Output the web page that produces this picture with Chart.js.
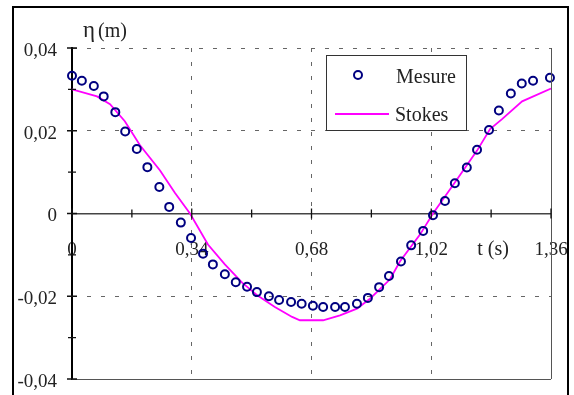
<!DOCTYPE html>
<html lang="fr">
<head>
<meta charset="UTF-8">
<title>Mesure / Stokes</title>
<script src="https://cdn.jsdelivr.net/npm/chart.js"></script>
<style>
  body { margin: 0; background: #fff; }
  #wrap { width: 574px; height: 395px; }
</style>
</head>
<body>
<div id="wrap"><canvas id="etaChart" width="574" height="395"></canvas></div>
<script>
// mesures (t en s, eta en m)
const mesureT = [0, 0.028, 0.062, 0.090, 0.123, 0.151, 0.184, 0.214, 0.248, 0.276,
  0.309, 0.338, 0.372, 0.400, 0.434, 0.465, 0.497, 0.525, 0.559, 0.588,
  0.622, 0.652, 0.684, 0.713, 0.747, 0.775, 0.809, 0.840, 0.872, 0.900,
  0.934, 0.963, 0.997, 1.025, 1.059, 1.087, 1.121, 1.150, 1.184, 1.212,
  1.246, 1.277, 1.309, 1.357];
const mesureEta = [0.0333, 0.0321, 0.0308, 0.0283, 0.0245, 0.0198, 0.0156, 0.0112, 0.0064, 0.0016,
  -0.0022, -0.0059, -0.0097, -0.0123, -0.0147, -0.0166, -0.0177, -0.0190, -0.0200, -0.0209,
  -0.0214, -0.0218, -0.0223, -0.0226, -0.0226, -0.0226, -0.0218, -0.0204, -0.0178, -0.0151,
  -0.0116, -0.0077, -0.0042, -0.0004, 0.0030, 0.0073, 0.0111, 0.0154, 0.0202, 0.0249,
  0.0290, 0.0314, 0.0321, 0.0328];

// theorie de Stokes
const stokesT = [0, 0.071, 0.108, 0.150, 0.193, 0.250, 0.292, 0.335, 0.386, 0.434,
  0.483, 0.528, 0.576, 0.625, 0.647, 0.713, 0.761, 0.809, 0.846, 0.903,
  0.931, 0.988, 1.025, 1.087, 1.150, 1.187, 1.221, 1.278, 1.360];
const stokesEta = [0.0300, 0.0283, 0.0264, 0.0223, 0.0165, 0.0104, 0.0050, 0, -0.0075, -0.0123,
  -0.0167, -0.0199, -0.0226, -0.0250, -0.0258, -0.0258, -0.0246, -0.0230, -0.0206, -0.0159,
  -0.0116, -0.0051, 0, 0.0075, 0.0152, 0.0204, 0.0228, 0.0271, 0.0302];

const xTicks = [0, 0.34, 0.68, 1.02, 1.36];
const xMinor = [0.17, 0.51, 0.85, 1.19];
const yTicks = [-0.04, -0.02, 0, 0.02, 0.04];
const yMinor = [-0.03, -0.01, 0.01, 0.03];

const FONT = '"Liberation Serif", "DejaVu Serif", serif';
const fmt = v => Math.abs(v) < 1e-9 ? '0' : v.toFixed(2).replace('.', ',');

// cadre, graduations, titres d'axes et legende
const decor = {
  id: 'decor',
  afterDraw(chart) {
    const { ctx, chartArea: a, scales: { x, y } } = chart;
    const y0 = y.getPixelForValue(0);
    ctx.save();

    // cadre exterieur
    ctx.strokeStyle = '#000';
    ctx.lineWidth = 2;
    ctx.strokeRect(13, 7, 555, 400);

    // bords droit et bas de la zone de trace
    ctx.strokeStyle = '#555';
    ctx.lineWidth = 1;
    ctx.beginPath();
    ctx.moveTo(a.right + 0.5, a.top);
    ctx.lineTo(a.right + 0.5, a.bottom);
    ctx.moveTo(a.left, a.bottom + 0.5);
    ctx.lineTo(a.right, a.bottom + 0.5);
    ctx.stroke();

    // graduations
    ctx.strokeStyle = '#111';
    ctx.lineWidth = 1.3;
    ctx.beginPath();
    yTicks.forEach(v => { const p = y.getPixelForValue(v); ctx.moveTo(a.left - 5, p); ctx.lineTo(a.left + 5, p); });
    yMinor.forEach(v => { const p = y.getPixelForValue(v); ctx.moveTo(a.left - 4, p); ctx.lineTo(a.left + 4, p); });
    xTicks.forEach(v => { const p = x.getPixelForValue(v); ctx.moveTo(p, y0 - 5); ctx.lineTo(p, y0 + 5); });
    xMinor.forEach(v => { const p = x.getPixelForValue(v); ctx.moveTo(p, y0 - 4); ctx.lineTo(p, y0 + 4); });
    ctx.stroke();

    // titres des axes
    ctx.fillStyle = '#222';
    ctx.textBaseline = 'alphabetic';
    ctx.textAlign = 'left';
    ctx.font = '23px ' + FONT;
    ctx.fillText('η', 83, 37);
    ctx.font = '20px ' + FONT;
    ctx.fillText('(m)', 98, 37);
    ctx.textAlign = 'center';
    ctx.textBaseline = 'middle';
    ctx.fillText('t (s)', x.getPixelForValue(1.19) + 2, y0 + 36);

    // legende
    ctx.fillStyle = '#fff';
    ctx.fillRect(327, 56, 140, 75);
    ctx.strokeStyle = '#333';
    ctx.lineWidth = 1;
    ctx.strokeRect(326.5, 55.5, 140, 75);
    const [m, s] = chart.data.datasets;
    ctx.beginPath();
    ctx.arc(358, 75, 4, 0, Math.PI * 2);
    ctx.strokeStyle = m.pointBorderColor;
    ctx.lineWidth = m.pointBorderWidth;
    ctx.stroke();
    ctx.beginPath();
    ctx.moveTo(335, 114);
    ctx.lineTo(389, 114);
    ctx.strokeStyle = s.borderColor;
    ctx.lineWidth = s.borderWidth;
    ctx.stroke();
    ctx.fillStyle = '#222';
    ctx.textAlign = 'left';
    ctx.font = '20px ' + FONT;
    ctx.fillText(m.label, 396, 78);
    ctx.fillText(s.label, 395, 116);

    ctx.restore();
  }
};

new Chart(document.getElementById('etaChart'), {
  type: 'line',
  data: {
    datasets: [{
      label: 'Mesure',
      data: mesureT.map((t, i) => ({ x: t, y: mesureEta[i] })),
      showLine: false,
      pointRadius: 4,
      pointBorderWidth: 2,
      pointBorderColor: '#000080',
      pointBackgroundColor: 'rgba(0,0,0,0)',
      clip: false
    }, {
      label: 'Stokes',
      data: stokesT.map((t, i) => ({ x: t, y: stokesEta[i] })),
      borderColor: '#ff00ff',
      borderWidth: 1.8,
      pointRadius: 0,
      tension: 0,
      fill: false
    }]
  },
  options: {
    responsive: false,
    animation: false,
    devicePixelRatio: 1,
    layout: { padding: { left: 0, top: 48, right: 23, bottom: 16 } },
    plugins: { legend: { display: false }, tooltip: { enabled: false } },
    scales: {
      x: {
        type: 'linear',
        position: { y: 0 },
        min: 0,
        max: 1.36,
        afterBuildTicks: s => { s.ticks = xTicks.map(v => ({ value: v })); },
        afterFit: s => { s.paddingLeft = 0; s.paddingRight = 0; },
        grid: { color: '#666', lineWidth: 1, drawTicks: false },
        border: { display: true, color: '#444', width: 1.5, dash: [4, 10] },
        ticks: {
          padding: 25,
          maxRotation: 0,
          autoSkip: false,
          color: '#222',
          font: { family: FONT, size: 19 },
          callback: v => fmt(v)
        }
      },
      y: {
        type: 'linear',
        position: 'left',
        min: -0.04,
        max: 0.04,
        afterBuildTicks: s => { s.ticks = yTicks.map(v => ({ value: v })); },
        afterFit: s => { s.width = 72; s.paddingTop = 0; s.paddingBottom = 0; },
        grid: { color: '#666', lineWidth: 1, drawTicks: false },
        border: { display: true, color: '#000', width: 2, dash: [4, 10] },
        ticks: {
          padding: 15,
          labelOffset: 3,
          color: '#222',
          font: { family: FONT, size: 19 },
          callback: v => fmt(v)
        }
      }
    }
  },
  plugins: [decor]
});
</script>
</body>
</html>
